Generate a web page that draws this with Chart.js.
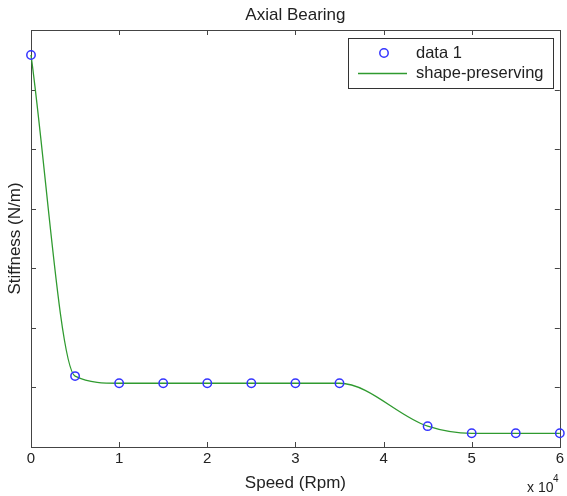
<!DOCTYPE html>
<html>
<head>
<meta charset="utf-8">
<script src="https://cdn.jsdelivr.net/npm/chart.js@4"></script>
<style>
  html, body { margin: 0; padding: 0; background: #fff; }
  #wrap { width: 567px; height: 496px; }
</style>
</head>
<body>
<div id="wrap"><canvas id="chart" width="567" height="496"></canvas></div>
<script>
// Datos (velocidad en rpm, rigidez sin escala)
const speeds = [0, 5000, 10000, 15000, 20000, 25000, 30000, 35000, 45000, 50000, 55000, 60000];
const stiffness = [6.58, 1.19, 1.07, 1.07, 1.07, 1.07, 1.07, 1.07, 0.35, 0.23, 0.23, 0.23];
const seriesLabels = ['data 1', 'shape-preserving'];
const chartTitle = 'Axial Bearing';
const xTitle = 'Speed (Rpm)';
const yTitle = 'Stiffness (N/m)';

const FONT = '"Liberation Sans", Arial, Helvetica, sans-serif';
const INK = '#222';
const BLUE = '#3434ff';
const GREEN = '#2f9a2f';

const points = speeds.map((s, i) => ({ x: s, y: stiffness[i] }));

// Marco estilo MATLAB: caja + ticks hacia dentro
const frame = {
  id: 'frame',
  beforeDatasetsDraw(chart) {
    const { ctx, chartArea: a, scales: { x, y } } = chart;
    ctx.save();
    ctx.strokeStyle = '#444';
    ctx.lineWidth = 1;
    ctx.strokeRect(Math.round(a.left) + 0.5, Math.round(a.top) + 0.5,
      Math.round(a.right - a.left), Math.round(a.bottom - a.top));
    ctx.beginPath();
    const len = 5;
    x.ticks.forEach(t => {
      const px = Math.round(x.getPixelForValue(t.value)) + 0.5;
      ctx.moveTo(px, a.bottom); ctx.lineTo(px, a.bottom - len);
      ctx.moveTo(px, a.top); ctx.lineTo(px, a.top + len);
    });
    y.ticks.forEach(t => {
      const py = Math.round(y.getPixelForValue(t.value)) + 0.5;
      ctx.moveTo(a.left, py); ctx.lineTo(a.left + len, py);
      ctx.moveTo(a.right, py); ctx.lineTo(a.right - len, py);
    });
    ctx.stroke();
    ctx.restore();
  },
  afterDraw(chart) {
    const { ctx, chartArea: a } = chart;
    ctx.save();
    ctx.fillStyle = INK;
    // título
    ctx.font = '17px ' + FONT;
    ctx.textAlign = 'center';
    ctx.textBaseline = 'middle';
    ctx.fillText(chartTitle, (a.left + a.right) / 2, 15);
    // exponente del eje x
    ctx.textAlign = 'left';
    ctx.font = '14px ' + FONT;
    ctx.fillText('x 10', 527, 488);
    ctx.font = '10px ' + FONT;
    ctx.fillText('4', 553, 479);

    // leyenda
    const lx = 348, ly = 38, lw = 205, lh = 50;
    ctx.fillStyle = '#fff';
    ctx.fillRect(lx, ly, lw, lh);
    ctx.strokeStyle = '#333';
    ctx.lineWidth = 1;
    ctx.strokeRect(lx + 0.5, ly + 0.5, lw, lh);
    ctx.strokeStyle = BLUE;
    ctx.lineWidth = 1.5;
    ctx.beginPath();
    ctx.arc(384, 53, 4.2, 0, Math.PI * 2);
    ctx.stroke();
    ctx.strokeStyle = GREEN;
    ctx.lineWidth = 1.3;
    ctx.beginPath();
    ctx.moveTo(358, 73.5); ctx.lineTo(407, 73.5);
    ctx.stroke();
    ctx.fillStyle = INK;
    ctx.font = '16.5px ' + FONT;
    ctx.textBaseline = 'middle';
    ctx.fillText(seriesLabels[0], 416, 53);
    ctx.fillText(seriesLabels[1], 416, 73);
    ctx.restore();
  }
};

new Chart(document.getElementById('chart').getContext('2d'), {
  type: 'line',
  data: {
    datasets: [
      {
        label: seriesLabels[0],
        data: points,
        showLine: false,
        pointStyle: 'circle',
        pointRadius: 4.2,
        pointBorderWidth: 1.5,
        pointBorderColor: BLUE,
        pointBackgroundColor: 'rgba(0,0,0,0)',
        clip: false
      },
      {
        label: seriesLabels[1],
        data: points,
        borderColor: GREEN,
        borderWidth: 1.3,
        pointRadius: 0,
        fill: false,
        cubicInterpolationMode: 'monotone',
        clip: false
      }
    ]
  },
  options: {
    responsive: false,
    animation: false,
    events: [],
    layout: { padding: { top: 30, right: 7, left: 0, bottom: 0 } },
    plugins: { legend: { display: false }, tooltip: { enabled: false }, title: { display: false } },
    scales: {
      x: {
        type: 'linear',
        min: 0, max: 60000,
        grid: { display: false, drawTicks: false },
        border: { display: false },
        ticks: {
          stepSize: 10000,
          padding: 3,
          color: INK,
          font: { family: FONT, size: 15 },
          maxRotation: 0,
          callback: v => String(v / 10000)
        },
        title: { display: true, text: xTitle, color: INK, font: { family: FONT, size: 17 }, padding: { top: 0, bottom: 2 } },
        afterFit: s => { s.height = 49; }
      },
      y: {
        type: 'linear',
        min: 0, max: 7,
        grid: { display: false, drawTicks: false },
        border: { display: false },
        ticks: { stepSize: 1, display: false },
        title: { display: true, text: yTitle, color: INK, font: { family: FONT, size: 17 }, padding: { top: 5, bottom: 0 } },
        afterFit: s => { s.width = 31; }
      }
    }
  },
  plugins: [frame]
});
</script>
</body>
</html>
